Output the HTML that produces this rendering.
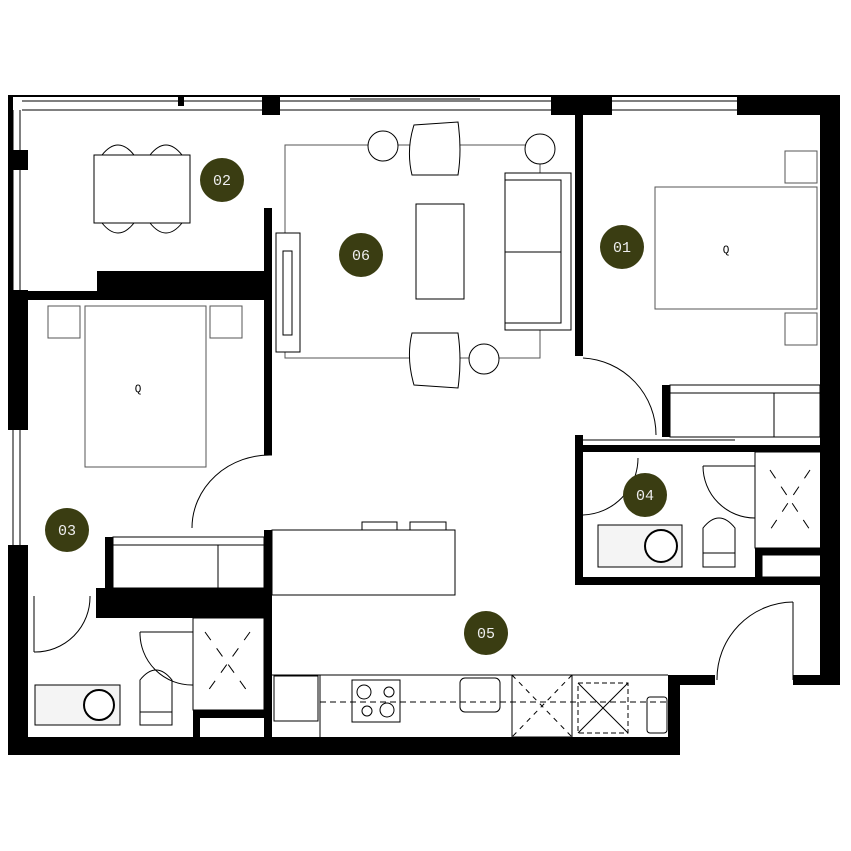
<!DOCTYPE html>
<html><head><style>body{margin:0;background:#fff}svg{display:block}</style></head><body>
<svg width="851" height="851" viewBox="0 0 851 851" xmlns="http://www.w3.org/2000/svg" font-family="Liberation Mono, monospace">
<rect width="851" height="851" fill="#fff"/>
<g fill="none" stroke="#000" stroke-width="1">
<!-- top window lines -->
<line x1="8" y1="96" x2="840" y2="96" stroke-width="2"/>
<line x1="22" y1="101" x2="551" y2="101"/>
<line x1="22" y1="110" x2="575" y2="110"/>
<line x1="612" y1="101" x2="737" y2="101"/>
<line x1="612" y1="110" x2="737" y2="110"/>
<line x1="350" y1="99" x2="480" y2="99"/>
<!-- left windows -->
<line x1="13" y1="110" x2="13" y2="290"/><line x1="20" y1="110" x2="20" y2="290"/>
<line x1="13" y1="430" x2="13" y2="545"/><line x1="20" y1="430" x2="20" y2="545"/>
</g>
<g fill="#000">
<rect x="8" y="96" width="5" height="200"/>
<rect x="8" y="150" width="20" height="20"/>
<rect x="8" y="290" width="20" height="140"/>
<rect x="8" y="545" width="20" height="210"/>
<rect x="8" y="737" width="672" height="18"/>
<rect x="668" y="675" width="12" height="80"/>
<rect x="668" y="675" width="47" height="10"/>
<rect x="793" y="675" width="47" height="10"/>
<rect x="820" y="96" width="20" height="589"/>
<rect x="737" y="96" width="83" height="19"/>
<rect x="551" y="96" width="61" height="19"/>
<rect x="262" y="96" width="18" height="19"/>
<rect x="178" y="96" width="6" height="10"/>
<rect x="575" y="110" width="8" height="246"/>
<rect x="264" y="208" width="8" height="247"/>
<rect x="97" y="271" width="175" height="29"/>
<rect x="28" y="291" width="70" height="9"/>
<rect x="264" y="530" width="8" height="207"/>
<rect x="105" y="537" width="8" height="53"/>
<rect x="96" y="588" width="176" height="30"/>
<rect x="193" y="710" width="71" height="8"/>
<rect x="193" y="710" width="7" height="27"/>
<rect x="575" y="435" width="8" height="150"/>
<rect x="575" y="577" width="253" height="8"/>
<rect x="583" y="445" width="237" height="7"/>
<rect x="755" y="548" width="70" height="7"/>
<rect x="755" y="548" width="7" height="30"/>
<rect x="662" y="385" width="8" height="52"/>
</g>
<g fill="none" stroke="#000" stroke-width="1">
<!-- doors -->
<path d="M272 455 A78 73 0 0 0 192 528"/>
<path d="M583 358 A77 77 0 0 1 656 435"/>
<path d="M793 602 A77 77 0 0 0 717 680"/>
<line x1="793" y1="602" x2="793" y2="680"/>
<path d="M34 652 A55 55 0 0 0 90 596"/><line x1="34" y1="596" x2="34" y2="652"/>
<path d="M140 632 A52 52 0 0 0 193 685"/><line x1="140" y1="632" x2="193" y2="632"/>
<path d="M583 515 A57 57 0 0 0 638 458"/>
<path d="M703 466 A52 52 0 0 0 755 518"/><line x1="703" y1="466" x2="755" y2="466"/>
<!-- furniture -->
<rect x="94" y="155" width="96" height="68"/>
<path d="M102 155 Q118 135 134 155 M150 155 Q166 135 182 155 M102 223 Q118 243 134 223 M150 223 Q166 243 182 223"/>
<rect x="85" y="306" width="121" height="161" stroke="#555"/>
<rect x="48" y="306" width="32" height="32" stroke="#555"/><rect x="210" y="306" width="32" height="32" stroke="#555"/>
<rect x="655" y="187" width="162" height="122" stroke="#555"/>
<rect x="785" y="151" width="32" height="32" stroke="#555"/><rect x="785" y="313" width="32" height="32" stroke="#555"/>
<rect x="285" y="145" width="255" height="213" stroke="#555"/>
<rect x="416" y="204" width="48" height="95" fill="#fff"/>
<rect x="505" y="173" width="66" height="157" fill="#fff"/>
<rect x="505" y="180" width="56" height="143"/><line x1="505" y1="252" x2="561" y2="252"/>
<rect x="276" y="233" width="24" height="119" fill="#fff"/>
<rect x="283" y="251" width="9" height="84"/>
<circle cx="383" cy="146" r="15" fill="#fff"/><circle cx="540" cy="149" r="15" fill="#fff"/><circle cx="484" cy="359" r="15" fill="#fff"/>
<path d="M412 175 Q406 150 414 125 L458 122 Q462 150 458 175 Z" fill="#fff"/>
<path d="M412 333 Q406 358 414 385 L458 388 Q462 360 458 333 Z" fill="#fff"/>
<!-- closets -->
<rect x="113" y="537" width="151" height="51"/><line x1="113" y1="545" x2="264" y2="545"/><line x1="218" y1="545" x2="218" y2="588"/>
<rect x="670" y="385" width="150" height="52"/><line x1="670" y1="393" x2="820" y2="393"/><line x1="774" y1="393" x2="774" y2="437"/>
<!-- island -->
<rect x="272" y="530" width="183" height="65"/>
<rect x="362" y="522" width="35" height="8"/><rect x="410" y="522" width="36" height="8"/>
<!-- kitchen -->
<line x1="272" y1="675" x2="668" y2="675"/>
<rect x="274" y="676" width="44" height="45"/>
<line x1="320" y1="675" x2="320" y2="737"/>
<line x1="320" y1="702" x2="668" y2="702" stroke-dasharray="6 4"/>
<rect x="352" y="680" width="48" height="42"/>
<circle cx="364" cy="692" r="7"/><circle cx="389" cy="692" r="5"/><circle cx="367" cy="711" r="5"/><circle cx="387" cy="710" r="7"/>
<rect x="460" y="678" width="40" height="34" rx="5"/>
<rect x="512" y="675" width="60" height="62"/><path d="M512 675 L572 737 M572 675 L512 737" stroke-dasharray="5 5"/>
<rect x="578" y="683" width="50" height="50" stroke-dasharray="5 3"/><path d="M578 683 L628 733 M628 683 L578 733"/>
<rect x="647" y="697" width="20" height="36" rx="3"/>
<!-- bathroom 03 -->
<rect x="193" y="618" width="71" height="92"/><path d="M205 632 L250 695 M250 632 L205 695" stroke-dasharray="10 10"/>
<rect x="35" y="685" width="85" height="40" fill="#f4f4f4"/><circle cx="99" cy="705" r="15" stroke-width="2" fill="#fff"/>
<path d="M140 725 V680 Q156 660 172 680 V725 Z"/><line x1="140" y1="712" x2="172" y2="712"/>
<!-- bathroom 04 -->
<rect x="755" y="452" width="70" height="96"/><path d="M770 470 L810 530 M810 470 L770 530" stroke-dasharray="10 10"/>
<rect x="598" y="525" width="84" height="42" fill="#f4f4f4"/><circle cx="661" cy="546" r="16" stroke-width="2" fill="#fff"/>
<path d="M703 567 V528 Q719 508 735 528 V567 Z"/><line x1="703" y1="553" x2="735" y2="553"/>
<rect x="762" y="555" width="63" height="22"/>
<line x1="583" y1="440" x2="735" y2="440"/>
</g>
<g font-size="11" text-anchor="middle"><text x="138" y="392">Q</text><text x="726" y="253">Q</text></g>
<g fill="#3a3d12"><circle cx="222" cy="180" r="22"/><circle cx="361" cy="255" r="22"/><circle cx="622" cy="247" r="22"/><circle cx="67" cy="530" r="22"/><circle cx="645" cy="495" r="22"/><circle cx="486" cy="633" r="22"/></g>
<g fill="#eee" font-size="15" text-anchor="middle">
<text x="222" y="185">02</text><text x="361" y="260">06</text><text x="622" y="252">01</text><text x="67" y="535">03</text><text x="645" y="500">04</text><text x="486" y="638">05</text></g>
</svg>
</body></html>
